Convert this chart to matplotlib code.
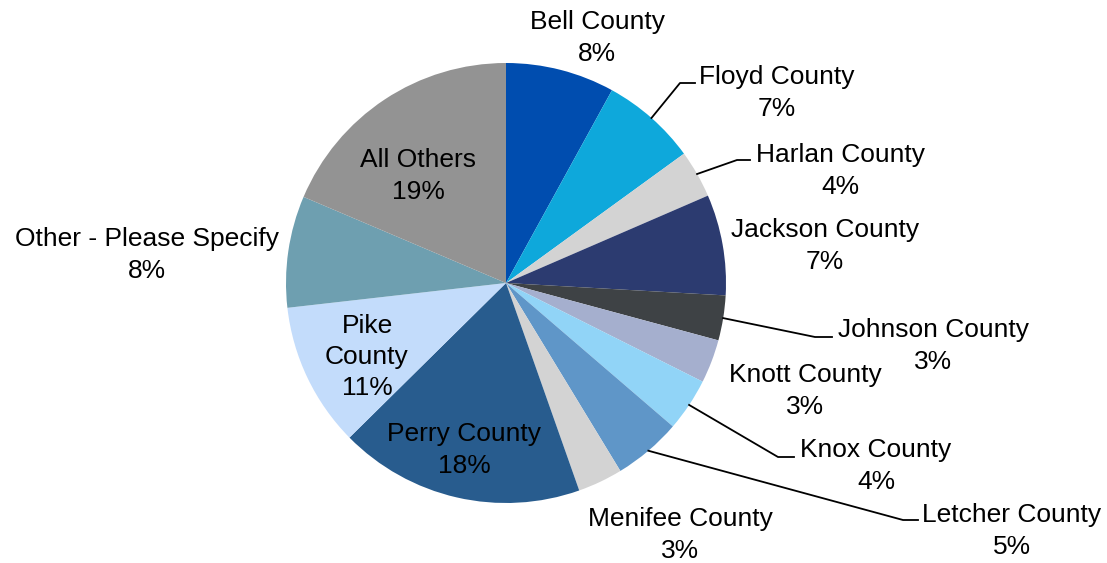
import matplotlib.pyplot as plt
import numpy as np

plt.rcParams['font.family'] = ['Liberation Sans', 'DejaVu Sans']

# slice data, clockwise from 12 o'clock
counties = ['Bell County', 'Floyd County', 'Harlan County', 'Jackson County',
            'Johnson County', 'Knott County', 'Knox County', 'Letcher County',
            'Menifee County', 'Perry County', 'Pike\nCounty',
            'Other - Please Specify', 'All Others']
shares = [8.0, 7.0, 3.5, 7.4, 3.3, 3.2, 3.9, 5.0, 3.3, 18.0, 10.6, 8.2, 18.6]
pct_labels = ['8%', '7%', '4%', '7%', '3%', '3%', '4%', '5%', '3%',
              '18%', '11%', '8%', '19%']
colors = ['#004DAF', '#0EA8DB', '#D3D3D3', '#2C3B70', '#3E4245', '#A5AFCE',
          '#91D4F7', '#5F96C8', '#D3D3D3', '#285C8E', '#C3DCFB', '#6E9FB0',
          '#939393']

# layout (pixel coords, y measured from top)
W, H = 1107, 563
cx, cy, R = 506, 283, 220
label_pos = [(597, 38), (777, 93), (840, 171), (825, 246), (933, 346),
             (805, 391), (876, 466), (1012, 531), (680, 535), (464, 450),
             (367, 357), (147, 255), (418, 176)]
# leader lines: elbow point and end of the short horizontal tick
leaders = {1: [(680, 83), (695, 83)],
           2: [(737, 160), (750, 160)],
           4: [(815, 337), (832, 337)],
           6: [(778, 457), (794, 457)],
           7: [(903, 520), (918, 520)]}

fig = plt.figure(figsize=(W / 100, H / 100), dpi=100)
ax = fig.add_axes([0, 0, 1, 1])

wedges, _ = ax.pie(shares, colors=colors, startangle=90, counterclock=False,
                   center=(cx, H - cy), radius=R, frame=True,
                   wedgeprops=dict(linewidth=0))
ax.set_xlim(0, W)
ax.set_ylim(0, H)
ax.set_aspect('equal')
ax.axis('off')

for i, (name, pct) in enumerate(zip(counties, pct_labels)):
    x, y = label_pos[i]
    ax.text(x, H - y, name + '\n' + pct, ha='center', va='center',
            fontsize=19, color='black', linespacing=1.37)

for i, pts in leaders.items():
    w = wedges[i]
    mid = np.deg2rad((w.theta1 + w.theta2) / 2)
    sx = cx + R * np.cos(mid)
    sy = (H - cy) + R * np.sin(mid)
    xs = [sx] + [p[0] for p in pts]
    ys = [sy] + [H - p[1] for p in pts]
    ax.plot(xs, ys, color='black', lw=1.3)

fig.savefig('out.png', dpi=100)
